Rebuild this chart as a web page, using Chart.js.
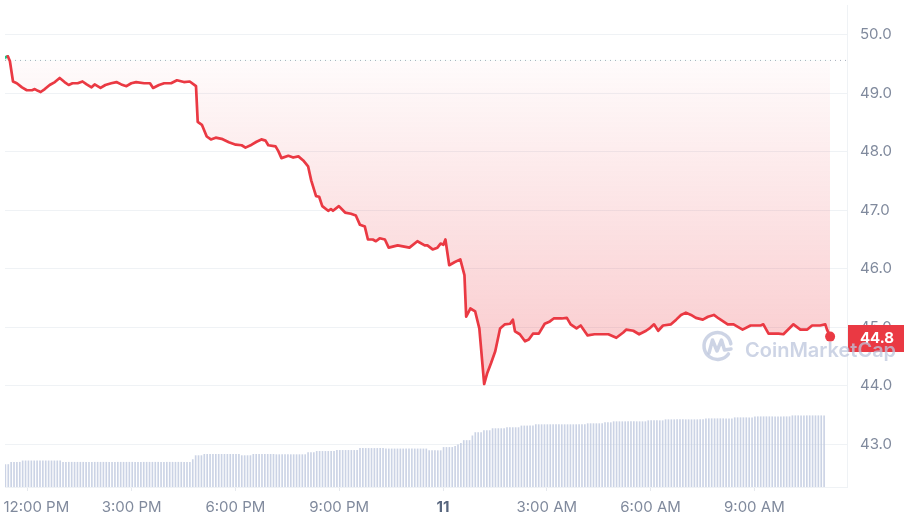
<!DOCTYPE html>
<html>
<head>
<meta charset="utf-8">
<script src="https://cdn.jsdelivr.net/npm/chart.js@4.4.1/dist/chart.umd.min.js"></script>
<style>
  html, body { margin: 0; padding: 0; background: #fff; }
  #wrap { width: 904px; height: 522px; }
</style>
</head>
<body>
<div id="wrap"><canvas id="priceChart"></canvas></div>
<script>
// price points, time is hours after 12:00 PM
const priceHours = [
    -0.66, -0.58, -0.52, -0.43, -0.32, -0.17, -0.03, 0.12, 0.20, 0.29,
    0.37, 0.49, 0.63, 0.78, 0.92, 1.06, 1.18, 1.29, 1.44, 1.58,
    1.70, 1.84, 1.93, 2.10, 2.24, 2.41, 2.56, 2.70, 2.85, 2.99,
    3.13, 3.36, 3.53, 3.62, 3.79, 3.94, 4.14, 4.31, 4.51, 4.68,
    4.86, 4.91, 5.03, 5.17, 5.29, 5.43, 5.60, 5.81, 6.01, 6.18,
    6.29, 6.47, 6.61, 6.75, 6.87, 6.95, 7.16, 7.24, 7.33, 7.53,
    7.67, 7.82, 7.96, 8.10, 8.19, 8.33, 8.42, 8.51, 8.68, 8.76,
    8.82, 8.99, 9.17, 9.34, 9.48, 9.60, 9.74, 9.83, 9.97, 10.06,
    10.17, 10.32, 10.43, 10.69, 11.03, 11.26, 11.47, 11.55, 11.70, 11.84,
    11.93, 12.01, 12.07, 12.18, 12.33, 12.50, 12.62, 12.67, 12.79, 12.93,
    13.05, 13.19, 13.28, 13.39, 13.51, 13.65, 13.79, 13.94, 14.02, 14.08,
    14.22, 14.37, 14.48, 14.60, 14.77, 14.94, 15.09, 15.20, 15.43, 15.58,
    15.69, 15.86, 15.98, 16.18, 16.38, 16.58, 16.78, 17.01, 17.21, 17.30,
    17.50, 17.67, 17.87, 17.99, 18.10, 18.22, 18.36, 18.59, 18.74, 18.88,
    19.02, 19.17, 19.31, 19.51, 19.66, 19.83, 19.97, 20.23, 20.40, 20.66,
    20.89, 21.18, 21.26, 21.41, 21.70, 21.84, 22.13, 22.33, 22.53, 22.67,
    22.90, 23.05, 23.10, 23.19
]
const prices = [
    49.61, 49.63, 49.55, 49.20, 49.17, 49.10, 49.05, 49.05, 49.07, 49.04,
    49.02, 49.07, 49.14, 49.19, 49.26, 49.19, 49.14, 49.17, 49.17, 49.20,
    49.15, 49.10, 49.15, 49.09, 49.14, 49.17, 49.19, 49.15, 49.12, 49.17,
    49.19, 49.17, 49.17, 49.09, 49.14, 49.17, 49.17, 49.22, 49.19, 49.20,
    49.12, 48.51, 48.46, 48.26, 48.21, 48.24, 48.22, 48.16, 48.12, 48.11,
    48.07, 48.12, 48.17, 48.21, 48.19, 48.11, 48.09, 48.01, 47.89, 47.93,
    47.90, 47.92, 47.85, 47.75, 47.51, 47.24, 47.23, 47.07, 46.99, 47.02,
    46.99, 47.07, 46.96, 46.94, 46.91, 46.75, 46.72, 46.50, 46.50, 46.47,
    46.52, 46.50, 46.36, 46.40, 46.36, 46.47, 46.40, 46.40, 46.33, 46.36,
    46.43, 46.41, 46.50, 46.06, 46.11, 46.16, 45.89, 45.18, 45.32, 45.27,
    44.98, 44.03, 44.22, 44.39, 44.59, 44.98, 45.05, 45.06, 45.13, 44.93,
    44.88, 44.76, 44.79, 44.89, 44.89, 45.06, 45.10, 45.15, 45.15, 45.16,
    45.05, 44.98, 45.03, 44.86, 44.88, 44.88, 44.88, 44.82, 44.91, 44.96,
    44.94, 44.88, 44.94, 44.99, 45.05, 44.94, 45.03, 45.05, 45.13, 45.21,
    45.25, 45.21, 45.16, 45.13, 45.18, 45.21, 45.15, 45.05, 45.05, 44.96,
    45.03, 45.03, 45.05, 44.89, 44.89, 44.88, 45.05, 44.96, 44.96, 45.03,
    45.03, 45.05, 44.96, 44.84
]
const openPrice = 49.56 // dotted line, price at start of the day

// 24h volume (millions), one bar every 5 minutes
const volStartHour = -0.65
const volStepHours = 5 / 60
const volumes = [
    22.7, 22.7, 25, 25, 25, 25,
    26.4, 26.4, 26.4, 26.4, 26.4, 26.4, 26.4, 26.4, 26.4, 26.4, 26.4, 26.4, 26.4, 26.4,
    25, 25, 25, 25, 25, 25, 25, 25, 25, 25, 25, 25, 25, 25, 25, 25,
    25, 25, 25, 25, 25, 25, 25, 25, 25, 25, 25, 25, 25, 25, 25, 25,
    25, 25, 25, 25, 25, 25, 25, 25, 25, 25, 25, 25, 25,
    27.7, 31.7, 31.7, 31.7,
    33, 33, 33, 33, 33, 33, 33, 33, 33, 33, 33, 33, 33,
    31.7, 31.7, 31.7, 31.7,
    33, 33, 33, 33, 33, 33, 33, 33,
    32.7, 32.7, 32.7, 32.7, 32.7, 32.7, 32.7, 32.7, 32.7, 32.7, 32.7,
    34.7, 34.7, 34.7,
    36, 36, 36, 36, 36, 36, 36,
    37, 37, 37, 37, 37, 37, 37, 37,
    39, 39, 39, 39, 39, 39, 39, 39, 39,
    38.5, 38.5, 38.5, 38.5, 38.5, 38.5, 38.5, 38.5, 38.5, 38.5, 38.5, 38.5, 38.5, 38.5, 38.5,
    36.7, 36.7, 36.7, 36.7, 36.7,
    40, 40, 40, 40, 41, 42.7, 44, 47, 47, 47, 51.7, 55, 55, 55, 57, 57, 57,
    59, 59, 59, 59, 59, 60, 60, 60, 60, 60, 61.7, 61.7, 61.7, 61.7, 61.7,
    63, 63, 63, 63, 63, 63, 63, 63, 63, 63, 63, 63, 63, 63, 63, 63, 63, 63,
    64, 64, 64, 64, 64, 64, 65, 65, 65,
    66, 66, 66, 66, 66, 66, 66, 66, 66, 66, 66, 66,
    67, 67, 67, 67, 67, 67,
    68, 68, 68, 68, 68, 68, 68, 68, 68, 68, 68, 68, 68, 68,
    69, 69, 69, 69, 69, 69, 69, 69, 69, 69,
    70, 70, 70, 70, 70, 70, 70,
    71, 71, 71, 71, 71, 71, 71, 71, 71, 71, 71, 71, 71,
    72, 72, 72, 72, 72, 72, 72, 72, 72, 72, 72, 72
]

// axis ticks
const tickHours = [0, 3, 6, 9, 12, 15, 18, 21]
const timeLabels = ["12:00 PM", "3:00 PM", "6:00 PM", "9:00 PM", "11", "3:00 AM", "6:00 AM", "9:00 AM"]
const priceTicks = [43, 44, 45, 46, 47, 48, 49, 50]

const xMin = -0.661
const xMax = 23.678
const yMin = 42.27
const yMax = 50.507

const red = "#ea3943"
const green = "#16c784"
const labelGrey = "#808a9d"
const lineGrey = "#eff2f5"

Chart.defaults.font.family = "Inter"

let priceData = priceHours.map((h, i) => ({x: h, y: prices[i]}))
let volumeData = volumes.map((v, i) => ({x: volStartHour + i * volStepHours, y: v}))
let openData = [{x: xMin, y: openPrice}, {x: xMax, y: openPrice}]

// red fade below the opening price line
function fillGradient(context) {
    const chart = context.chart
    if (!chart.chartArea) return "rgba(234,57,67,0.1)"
    const top = chart.scales.y.getPixelForValue(openPrice)
    const bottom = chart.scales.y.getPixelForValue(44)
    let g = chart.ctx.createLinearGradient(0, top, 0, bottom)
    g.addColorStop(0, "rgba(234,57,67,0.02)")
    g.addColorStop(1, "rgba(234,57,67,0.28)")
    return g
}

// price badge on the axis and the watermark
const extras = {
    id: "extras",
    afterDraw(chart) {
        const ctx = chart.ctx
        const area = chart.chartArea
        const last = prices[prices.length - 1]
        const y = chart.scales.y.getPixelForValue(last)
        ctx.save()
        ctx.fillStyle = red
        ctx.fillRect(area.right + 1, Math.round(y) - 12, chart.width - area.right - 1, 27)
        ctx.fillStyle = "#fff"
        ctx.font = "bold 15px Inter"
        ctx.textAlign = "center"
        ctx.textBaseline = "middle"
        ctx.fillText(last.toFixed(1), area.right + 30, y + 2)

        // CoinMarketCap watermark
        const wm = "rgba(188,198,220,0.75)"
        ctx.strokeStyle = wm
        ctx.lineWidth = 3.5
        ctx.lineCap = "round"
        ctx.lineJoin = "round"
        ctx.beginPath()
        ctx.arc(717.5, 346, 13.5, 0.2 * Math.PI, 1.95 * Math.PI)
        ctx.stroke()
        ctx.beginPath()
        ctx.moveTo(709, 353)
        ctx.lineTo(712.5, 340)
        ctx.lineTo(717, 351)
        ctx.lineTo(721.5, 340)
        ctx.lineTo(724.5, 350)
        ctx.lineTo(731, 349)
        ctx.stroke()
        ctx.fillStyle = wm
        ctx.font = "600 20px Inter"
        ctx.textAlign = "left"
        ctx.textBaseline = "alphabetic"
        ctx.fillText("CoinMarketCap", 745, 357)
        ctx.restore()
    }
}

let priceChart = new Chart("priceChart", {
    data: {
        datasets: [
            {
                type: "line",
                data: priceData,
                borderColor: red,
                borderWidth: 2.7,
                borderJoinStyle: "round",
                borderCapStyle: "round",
                backgroundColor: fillGradient,
                fill: {target: {value: openPrice}, above: "rgba(22,199,132,0.12)"},
                tension: 0,
                pointRadius: (ctx) => ctx.dataIndex === prices.length - 1 ? 5 : 0,
                pointHoverRadius: 0,
                pointBackgroundColor: red,
                pointBorderWidth: 0,
                segment: {
                    // green while the price is above the open
                    borderColor: (ctx) => (ctx.p0.parsed.y >= openPrice && ctx.p1.parsed.y >= openPrice) ? green : undefined
                },
                order: 0
            },
            {
                type: "line",
                data: openData,
                borderColor: "#a7aebb",
                borderWidth: 1,
                borderDash: [1, 4],
                pointRadius: 0,
                fill: false,
                order: 1
            },
            {
                type: "bar",
                data: volumeData,
                yAxisID: "vol",
                backgroundColor: "rgba(190,200,222,0.8)",
                barThickness: 1,
                order: 2
            }
        ]
    },
    options: {
        responsive: true,
        maintainAspectRatio: false,
        animation: false,
        layout: {padding: 0},
        plugins: {
            legend: {display: false},
            tooltip: {enabled: false}
        },
        scales: {
            x: {
                type: "linear",
                min: xMin,
                max: xMax,
                offset: false, // bars would otherwise push the range out
                afterBuildTicks: (axis) => { axis.ticks = tickHours.map(v => ({value: v})) },
                afterFit: (axis) => { axis.height = 35; axis.paddingLeft = 0; axis.paddingRight = 0 },
                grid: {offset: false, drawOnChartArea: false, drawTicks: true, tickLength: 4, color: "#e6e9ee"},
                border: {color: lineGrey},
                ticks: {
                    autoSkip: false,
                    maxRotation: 0,
                    padding: 7,
                    color: (ctx) => ctx.tick && ctx.tick.value === 12 ? "#58667e" : labelGrey,
                    font: (ctx) => ({size: 15, weight: ctx.tick && ctx.tick.value === 12 ? "bold" : "normal"}),
                    // first label sits inside the left edge
                    callback: (value) => (value === 0 ? "    " : "") + timeLabels[tickHours.indexOf(value)]
                }
            },
            y: {
                position: "right",
                min: yMin,
                max: yMax,
                afterBuildTicks: (axis) => { axis.ticks = priceTicks.map(v => ({value: v})) },
                afterFit: (axis) => { axis.width = 57; axis.paddingTop = 0; axis.paddingBottom = 0 },
                grid: {color: lineGrey, drawTicks: false},
                border: {color: lineGrey},
                ticks: {
                    padding: 13,
                    color: labelGrey,
                    font: {size: 15},
                    callback: (value) => value.toFixed(1)
                }
            },
            vol: {
                display: false,
                min: 0,
                max: 487
            }
        }
    },
    plugins: [extras]
})
</script>
</body>
</html>
